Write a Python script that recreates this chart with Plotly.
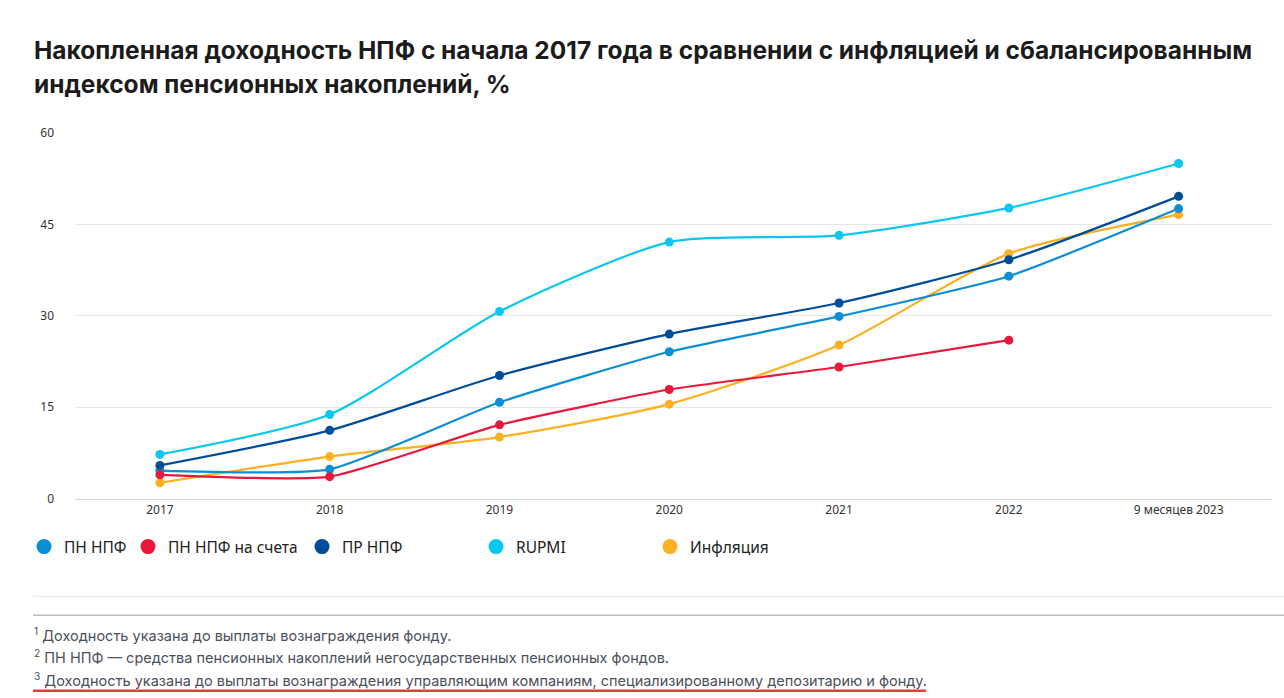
import plotly.graph_objects as go

categories = ["2017", "2018", "2019", "2020", "2021", "2022", "9 месяцев 2023"]

pn_npf = [4.6, 4.8, 15.8, 24.1, 29.9, 36.5, 47.6]
pn_npf_accounts = [3.9, 3.6, 12.1, 17.9, 21.6, 26.0, None]
pr_npf = [5.45, 11.2, 20.2, 27.0, 32.1, 39.2, 49.6]
rupmi = [7.25, 13.8, 30.7, 42.1, 43.2, 47.7, 55.0]
inflation = [2.6, 6.9, 10.1, 15.5, 25.2, 40.2, 46.6]

series_names = ["ПН НПФ", "ПН НПФ на счета", "ПР НПФ", "RUPMI", "Инфляция"]
series_values = [pn_npf, pn_npf_accounts, pr_npf, rupmi, inflation]
series_colors = ["#0a8ed4", "#e8183b", "#014c99", "#0bc7ef", "#fcb022"]
series_smoothing = [0.5, 0.5, 0.65, 0.65, 0.65]

y_ticks = [0, 15, 30, 45, 60]

footnotes = [
    ("1", "Доходность указана до выплаты вознаграждения фонду."),
    ("2", "ПН НПФ — средства пенсионных накоплений негосударственных пенсионных фондов."),
    ("3", "Доходность указана до выплаты вознаграждения управляющим компаниям, специализированному депозитарию и фонду."),
]

W, H = 1284, 698
L, R, T, B = 75, 12, 133, 198
plot_w = W - L - R
plot_h = H - T - B

def px_x(px):
    return (px - L) / plot_w

def px_y(py):
    return (H - B - py) / plot_h

fig = go.Figure()

legend_ids = ["legend", "legend2", "legend3", "legend4", "legend5"]
legend_marker_x = [46, 150, 324, 498, 672]

draw_order = [3, 4, 0, 1, 2]
for i in draw_order:
    fig.add_trace(go.Scatter(
        x=categories, y=series_values[i], name=series_names[i],
        mode="lines+markers",
        line=dict(color=series_colors[i], width=2.2, shape="spline", smoothing=series_smoothing[i]),
        marker=dict(color=series_colors[i], size=9),
        showlegend=False, connectgaps=False,
        hovertemplate="%{x}: %{y}<extra>" + series_names[i] + "</extra>",
    ))

for i, name in enumerate(series_names):
    fig.add_trace(go.Scatter(
        x=[None], y=[None], name=name, mode="markers",
        marker=dict(color=series_colors[i], size=15),
        legend=legend_ids[i], showlegend=True,
    ))

layout_legends = {}
for i, lid in enumerate(legend_ids):
    layout_legends[lid] = dict(
        xref="container", yref="container",
        x=(legend_marker_x[i] - 22) / W, y=1 - 547 / H,
        xanchor="left", yanchor="middle",
        orientation="h", bgcolor="rgba(0,0,0,0)",
        font=dict(family="Noto Sans, Open Sans, sans-serif", size=15.5, color="#222222"),
        itemwidth=30,
    )

title_font = dict(family="Inter, Roboto, sans-serif", size=24.5, color="#1b1b1b")
annotations = [
    dict(
        xref="paper", yref="paper",
        x=px_x(32), y=px_y(50), xanchor="left", yanchor="middle",
        text="<b>Накопленная доходность НПФ с начала 2017 года в сравнении с инфляцией и сбалансированным</b>",
        showarrow=False, align="left", font=title_font,
    ),
    dict(
        xref="paper", yref="paper",
        x=px_x(32), y=px_y(84), xanchor="left", yanchor="middle",
        text="<b>индексом пенсионных накоплений, %</b>",
        showarrow=False, align="left", font=title_font,
    ),
]

foot_y = [636, 659, 682]
for (num, txt), py in zip(footnotes, foot_y):
    annotations.append(dict(
        xref="paper", yref="paper",
        x=px_x(32), y=px_y(py), xanchor="left", yanchor="middle",
        text=f"<sup>{num}</sup> {txt}",
        showarrow=False, align="left",
        font=dict(family="Inter, Noto Sans, sans-serif", size=14.5, color="#4b505a"),
    ))

shapes = [
    dict(type="line", xref="paper", yref="paper", x0=px_x(33), x1=px_x(1284),
         y0=px_y(598), y1=px_y(598), line=dict(color="#e3e3e3", width=1)),
    dict(type="line", xref="paper", yref="paper", x0=px_x(33), x1=px_x(1284),
         y0=px_y(617), y1=px_y(617), line=dict(color="#9a9a9a", width=1)),
    dict(type="line", xref="paper", yref="paper", x0=px_x(33), x1=px_x(926),
         y0=px_y(693), y1=px_y(693), line=dict(color="#e53c38", width=2.5)),
]

tick_font = dict(family="Noto Sans, Open Sans, sans-serif", size=12, color="#333333")

fig.update_layout(
    width=W, height=H,
    margin=dict(l=L, r=R, t=T, b=B),
    paper_bgcolor="white", plot_bgcolor="white",
    annotations=annotations, shapes=shapes,
    **layout_legends,
    xaxis=dict(
        type="category", range=[-0.5, 6.55],
        showgrid=False, showline=True, linecolor="#ccd6eb", linewidth=1,
        ticks="", tickfont=tick_font, zeroline=False, fixedrange=True,
    ),
    yaxis=dict(
        range=[0, 60], tickvals=y_ticks,
        showgrid=True, gridcolor="#e6e6e6", gridwidth=1,
        zeroline=False, showline=False, ticks="", ticklabelstandoff=20,
        tickfont=tick_font, fixedrange=True,
    ),
)

fig.write_html(
    "out.html",
    config={"displayModeBar": False},
    post_script="document.body.style.margin='0';document.body.style.overflow='hidden';",
)
